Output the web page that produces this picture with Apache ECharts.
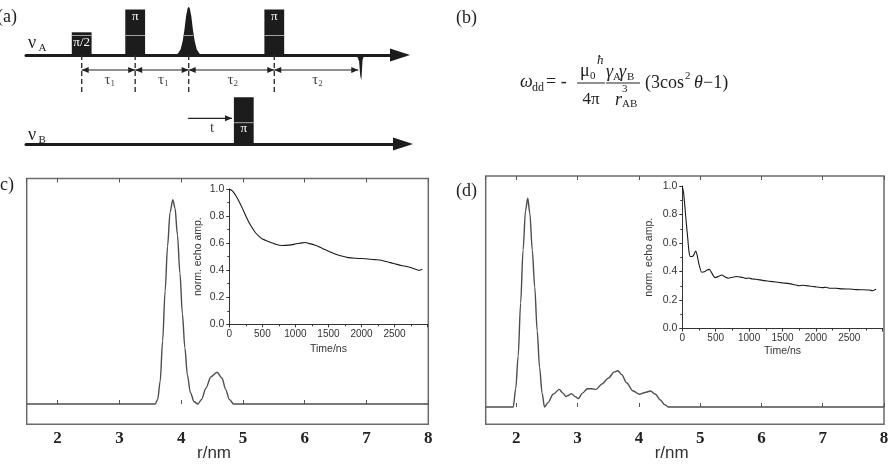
<!DOCTYPE html>
<html>
<head>
<meta charset="utf-8">
<title>DEER</title>
<script src="https://cdn.jsdelivr.net/npm/echarts@6.0.0/dist/echarts.min.js"></script>
<style>
  html, body { margin: 0; padding: 0; background: #fff; }
  #chart { width: 892px; height: 464px; }
</style>
</head>
<body>
<div id="chart"></div>
<script>
var SERIF = '"Liberation Serif", "DejaVu Serif", serif';
var SANS = '"Liberation Sans", Arial, sans-serif';

// (c) distance distribution
var rC = [1.5, 3.58, 3.62, 3.66, 3.70, 3.74, 3.78, 3.82, 3.865, 3.90, 3.94, 3.98, 4.02, 4.06, 4.10, 4.15, 4.21, 4.27, 4.33, 4.40, 4.48, 4.58, 4.66, 4.72, 4.78, 4.85, 8.0];
var pC = [0, 0, 0.02, 0.10, 0.28, 0.50, 0.70, 0.85, 0.906, 0.87, 0.75, 0.58, 0.40, 0.25, 0.13, 0.05, 0.01, 0.0, 0.02, 0.07, 0.12, 0.141, 0.115, 0.065, 0.02, 0, 0];
// (c) inset: DEER trace
var tC = [0, 50, 100, 150, 200, 250, 300, 350, 400, 450, 500, 600, 700, 800, 900, 1000, 1100, 1150, 1200, 1300, 1400, 1500, 1600, 1700, 1800, 1900, 2000, 2100, 2200, 2300, 2400, 2500, 2600, 2700, 2800, 2850, 2880, 2920];
var echoC = [1.0, 0.985, 0.95, 0.905, 0.855, 0.80, 0.75, 0.71, 0.675, 0.65, 0.63, 0.61, 0.592, 0.582, 0.585, 0.593, 0.602, 0.605, 0.598, 0.585, 0.563, 0.54, 0.52, 0.505, 0.493, 0.488, 0.486, 0.483, 0.478, 0.473, 0.46, 0.448, 0.435, 0.425, 0.41, 0.402, 0.40, 0.407];

// (d) distance distribution
var rD = [1.5, 1.95, 1.99, 2.03, 2.07, 2.11, 2.15, 2.186, 2.22, 2.26, 2.30, 2.34, 2.38, 2.42, 2.46, 2.52, 2.60, 2.70, 2.76, 2.81, 2.86, 2.90, 2.96, 3.01, 3.08, 3.16, 3.23, 3.30, 3.40, 3.50, 3.60, 3.655, 3.72, 3.80, 3.90, 4.01, 4.10, 4.19, 4.27, 4.35, 4.42, 4.48, 8.0];
var pD = [0, 0, 0.08, 0.22, 0.45, 0.68, 0.85, 0.904, 0.84, 0.68, 0.52, 0.33, 0.17, 0.06, 0.0, 0.02, 0.055, 0.076, 0.06, 0.045, 0.052, 0.058, 0.045, 0.036, 0.06, 0.079, 0.079, 0.076, 0.10, 0.125, 0.152, 0.157, 0.14, 0.105, 0.07, 0.055, 0.063, 0.069, 0.055, 0.03, 0.01, 0, 0];
// (d) inset: DEER trace
var tD = [0, 20, 40, 60, 80, 100, 120, 150, 170, 200, 220, 250, 290, 330, 370, 405, 440, 490, 540, 590, 640, 690, 750, 815, 900, 950, 1000, 1050, 1100, 1200, 1300, 1400, 1500, 1600, 1700, 1750, 1800, 1900, 2000, 2100, 2150, 2200, 2300, 2400, 2500, 2600, 2700, 2800, 2850, 2900];
var echoD = [1.0, 0.95, 0.85, 0.74, 0.64, 0.54, 0.505, 0.505, 0.515, 0.543, 0.52, 0.45, 0.395, 0.398, 0.41, 0.415, 0.39, 0.357, 0.365, 0.375, 0.362, 0.353, 0.36, 0.365, 0.358, 0.352, 0.354, 0.347, 0.346, 0.338, 0.332, 0.326, 0.32, 0.315, 0.305, 0.30, 0.303, 0.298, 0.292, 0.287, 0.29, 0.283, 0.282, 0.278, 0.277, 0.273, 0.272, 0.27, 0.265, 0.275];

// (a) pulse sequence, time in units of tau1 (tau2 ~ 1.6 tau1)
var seqMarks = [0, 1, 2, 3.6];
var pulsesA = [[0, 0.5], [1, 1], [3.6, 1]];
var pulseLabelsA = ['π/2', 'π', 'π'];
var echoA = [[2, 1.06]];
var refocusedEcho = [[5.22, -0.55]];
var delays = [[0, 1], [1, 2], [2, 3.6], [3.6, 5.17]];
var delayLabels = [['τ', '1'], ['τ', '1'], ['τ', '2'], ['τ', '2']];
var pulsesB = [[3.03, 1.03]];
var pumpShift = [[1.99, 2.81]];

// glyph shapes for the echoes
var PULSE_W = 0.37;
var SHEEN_A = 0.43, SHEEN_B = 0.47;
var ECHO_DT = [-0.26, -0.2, -0.15, -0.11, -0.08, -0.05, -0.02, 0, 0.02, 0.05, 0.08, 0.11, 0.15, 0.2, 0.26];
var ECHO_REL = [0, 0.03, 0.12, 0.3, 0.52, 0.8, 0.97, 1, 0.97, 0.8, 0.52, 0.3, 0.12, 0.03, 0];
var NEG_DT = [-0.14, -0.07, -0.035, -0.012, 0.008, 0.03, 0.06];
var NEG_REL = [0, 0.06, 0.25, 0.85, 1, 0.2, 0];

function zip(a, b) {
    return a.map(function (v, i) { return [v, b[i]]; });
}

function pulseItem(labels, sheen, low) {
    return function (params, api) {
        var t = api.value(0), amp = api.value(1);
        var a = api.coord([t - PULSE_W / 2, 0]);
        var b = api.coord([t + PULSE_W / 2, amp]);
        var ys = api.coord([t, sheen])[1];
        var lab = labels[params.dataIndex];
        var ly = (low || amp < 0.7) ? ys + (low ? 5.5 : 7.5) : b[1] + 7;
        return {type: 'group', children: [
            {type: 'rect', shape: {x: a[0], y: b[1], width: b[0] - a[0], height: a[1] - b[1]}, style: {fill: '#1c1c1c'}},
            {type: 'line', shape: {x1: a[0], y1: ys, x2: b[0], y2: ys}, style: {stroke: '#c8c8c8', lineWidth: 0.8}},
            {type: 'text', x: (a[0] + b[0]) / 2, y: ly, style: {text: lab, fill: '#fff', font: '13px ' + SERIF, align: 'center', verticalAlign: 'middle'}}
        ]};
    };
}

function shapeItem(dts, rels, sheen) {
    return function (params, api) {
        var t = api.value(0), amp = api.value(1);
        var pts = dts.map(function (dt, i) { return api.coord([t + dt, amp * rels[i]]); });
        var children = [{type: 'polygon', shape: {points: pts}, style: {fill: '#1c1c1c'}}];
        if (sheen != null) {
            var a = api.coord([t - 0.085, sheen]);
            var b = api.coord([t + 0.085, sheen]);
            children.push({type: 'line', shape: {x1: a[0], y1: a[1], x2: b[0], y2: b[1]}, style: {stroke: '#c8c8c8', lineWidth: 0.8}});
        }
        return {type: 'group', children: children};
    };
}

function dashedItem(params, api) {
    var a = api.coord([api.value(0), 0]);
    var b = api.coord([api.value(0), -0.88]);
    return {type: 'line', shape: {x1: a[0], y1: a[1], x2: b[0], y2: b[1]},
        style: {stroke: '#333', lineWidth: 1.4, lineDash: [5, 3]}};
}

function arrowItem(labels, level, both) {
    return function (params, api) {
        var a = api.coord([api.value(0), level]);
        var b = api.coord([api.value(1), level]);
        var y = a[1], L = 7, H = 3;
        var ch = [
            {type: 'line', shape: {x1: a[0], y1: y, x2: b[0], y2: y}, style: {stroke: '#222', lineWidth: 1.2}},
            {type: 'polygon', shape: {points: [[b[0], y], [b[0] - L, y - H], [b[0] - L, y + H]]}, style: {fill: '#222'}}
        ];
        if (both) {
            ch.push({type: 'polygon', shape: {points: [[a[0], y], [a[0] + L, y - H], [a[0] + L, y + H]]}, style: {fill: '#222'}});
        }
        var lab = labels[params.dataIndex], xm = (a[0] + b[0]) / 2 + 2;
        ch.push({type: 'text', x: xm, y: y + 10, style: {text: lab[0], font: '15px ' + SERIF, fill: '#444', align: lab[1] ? 'right' : 'center', verticalAlign: 'middle'}});
        if (lab[1]) {
            ch.push({type: 'text', x: xm, y: y + 14, style: {text: lab[1], font: '9px ' + SERIF, fill: '#444', align: 'left', verticalAlign: 'middle'}});
        }
        return {type: 'group', children: ch};
    };
}

function txt(x, y, s, size, italic, align, color) {
    return {type: 'text', x: x, y: y, silent: true,
        style: {text: s, font: (italic ? 'italic ' : '') + size + 'px ' + SERIF, fill: color || '#222',
            align: align || 'left', verticalAlign: 'middle'}};
}
function bar(x1, x2, y) {
    return {type: 'line', silent: true, shape: {x1: x1, y1: y, x2: x2, y2: y}, style: {stroke: '#222', lineWidth: 1}};
}

function schemX(grid, max) {
    return {gridIndex: grid, type: 'value', min: -1.041, max: max,
        axisLine: {show: true, onZero: true, symbol: ['none', 'triangle'], symbolSize: [13, 20],
            lineStyle: {color: '#1c1c1c', width: 3}},
        axisTick: {show: false}, axisLabel: {show: false}, splitLine: {show: false}};
}
function schemY(grid, min, max) {
    return {gridIndex: grid, type: 'value', min: min, max: max, show: false};
}
function mainX(grid, top) {
    return {gridIndex: grid, type: 'value', min: 1.5, max: 8, splitNumber: 7, position: top ? 'top' : 'bottom',
        axisLine: {show: false},
        axisTick: {show: true, inside: true, length: 4, lineStyle: {color: '#555', width: 1}},
        axisLabel: top ? {show: false} : {show: true, showMinLabel: false, margin: 6, color: '#222',
            fontFamily: SERIF, fontWeight: 'bold', fontSize: 17},
        splitLine: {show: false}};
}
function mainY(grid, min) {
    return {gridIndex: grid, type: 'value', min: min, max: 1, show: false};
}
var insetText = {fontFamily: SANS, fontSize: 10.5, color: '#333'};
function insetX(grid, gap) {
    return {gridIndex: grid, type: 'value', min: 0, max: 3000, interval: 500,
        name: 'Time/ns', nameLocation: 'middle', nameGap: gap, nameTextStyle: insetText,
        axisLine: {show: true, onZero: false, lineStyle: {color: '#333', width: 1}},
        axisTick: {show: true, length: 3, lineStyle: {color: '#333'}},
        minorTick: {show: true, splitNumber: 2, length: 2, lineStyle: {color: '#333'}},
        axisLabel: {showMaxLabel: false, margin: 5, fontFamily: SANS, fontSize: 10, color: '#333',
            formatter: function (v) { return String(v); }},
        splitLine: {show: false}};
}
function insetY(grid, gap) {
    return {gridIndex: grid, type: 'value', min: 0, max: 1, interval: 0.2,
        name: 'norm. echo amp.', nameLocation: 'middle', nameGap: gap, nameRotate: 90, nameTextStyle: insetText,
        axisLine: {show: true, onZero: false, lineStyle: {color: '#333', width: 1}},
        axisTick: {show: true, length: 3, lineStyle: {color: '#333'}},
        minorTick: {show: true, splitNumber: 2, length: 2, lineStyle: {color: '#333'}},
        axisLabel: {margin: 5, fontFamily: SANS, fontSize: 10.5, color: '#333',
            formatter: function (v) { return v.toFixed(1); }},
        splitLine: {show: false}};
}

var chart = echarts.init(document.getElementById('chart'));
var option = {
    animation: false,
    backgroundColor: '#fff',
    grid: [
        {left: 26, top: 5, width: 374, height: 91},
        {left: 26, top: 94, width: 377, height: 59.15},
        {left: 26.7, top: 178.5, width: 401.6, height: 245.8, show: true, borderColor: '#6b6b6b', borderWidth: 1.5},
        {left: 229.3, top: 189, width: 198.3, height: 135.3},
        {left: 485.7, top: 176, width: 398.3, height: 248.3, show: true, borderColor: '#6b6b6b', borderWidth: 1.5},
        {left: 682.3, top: 186, width: 200.4, height: 142.5}
    ],
    xAxis: [
        schemX(0, 5.950),
        schemX(1, 6.006),
        mainX(2, false),
        mainX(2, true),
        insetX(3, 19),
        mainX(4, false),
        mainX(4, true),
        insetX(5, 17)
    ],
    yAxis: [
        schemY(0, -0.9, 1.1),
        schemY(1, -0.2, 1.1),
        mainY(2, -0.09),
        insetY(3, 26),
        mainY(4, -0.075),
        insetY(5, 28)
    ],
    series: [
        {type: 'custom', xAxisIndex: 0, yAxisIndex: 0, data: seqMarks.map(function (t) { return [t, 0]; }), renderItem: dashedItem},
        {type: 'custom', xAxisIndex: 0, yAxisIndex: 0, data: pulsesA, renderItem: pulseItem(pulseLabelsA, SHEEN_A, false)},
        {type: 'custom', xAxisIndex: 0, yAxisIndex: 0, data: echoA, renderItem: shapeItem(ECHO_DT, ECHO_REL, SHEEN_A)},
        {type: 'custom', xAxisIndex: 0, yAxisIndex: 0, data: refocusedEcho, renderItem: shapeItem(NEG_DT, NEG_REL, null)},
        {type: 'custom', xAxisIndex: 0, yAxisIndex: 0, data: delays, renderItem: arrowItem(delayLabels, -0.329, true)},
        {type: 'custom', xAxisIndex: 1, yAxisIndex: 1, data: pulsesB, renderItem: pulseItem(['π'], SHEEN_B, true)},
        {type: 'custom', xAxisIndex: 1, yAxisIndex: 1, data: pumpShift, renderItem: arrowItem([['t']], 0.565, false)},
        {type: 'line', xAxisIndex: 2, yAxisIndex: 2, data: zip(rC, pC), smooth: 0.3, smoothMonotone: 'x', showSymbol: false,
            lineStyle: {color: '#4d4d4d', width: 1.4}},
        {type: 'line', xAxisIndex: 4, yAxisIndex: 3, data: zip(tC, echoC), smooth: 0.2, showSymbol: false,
            lineStyle: {color: '#1a1a1a', width: 1.1}},
        {type: 'line', xAxisIndex: 5, yAxisIndex: 4, data: zip(rD, pD), smooth: 0.3, smoothMonotone: 'x', showSymbol: false,
            lineStyle: {color: '#4d4d4d', width: 1.4}},
        {type: 'line', xAxisIndex: 7, yAxisIndex: 5, data: zip(tD, echoD), smooth: 0.2, showSymbol: false,
            lineStyle: {color: '#1a1a1a', width: 1.1}}
    ],
    graphic: [
        txt(-3, 17, '(a)', 18),
        txt(456, 18, '(b)', 18),
        txt(-6, 185, '(c)', 18),
        txt(456, 191.7, '(d)', 18),
        txt(28, 43, 'ν', 18), txt(38.5, 48, 'A', 11),
        txt(28, 135, 'ν', 18), txt(38.5, 140, 'B', 11),
        // dipolar coupling formula
        txt(520, 82, 'ω', 18, true), txt(532, 88, 'dd', 12),
        txt(546, 82, '= -', 18),
        txt(580, 71, 'μ', 18), txt(590, 76, '0', 11), txt(597, 61, 'ħ', 13, true),
        bar(577, 605, 83),
        txt(591, 100, '4π', 17, false, 'center'),
        txt(606, 72, 'γ', 18, true), txt(613, 77, 'A', 11), txt(619, 72, 'γ', 18, true), txt(627, 77, 'B', 11),
        bar(606, 640, 83),
        txt(615, 100, 'r', 18, true), txt(622, 89, '3', 11), txt(622, 104, 'AB', 11),
        txt(645, 83, '(3cos', 18), txt(685, 76, '2', 11), txt(694, 83, 'θ', 18, true), txt(703, 83, '−1)', 18),
        {type: 'text', x: 214, y: 453, silent: true, style: {text: 'r/nm', font: '17px ' + SANS, fill: '#333', align: 'center', verticalAlign: 'middle'}},
        {type: 'text', x: 671.7, y: 453, silent: true, style: {text: 'r/nm', font: '17px ' + SANS, fill: '#333', align: 'center', verticalAlign: 'middle'}}
    ]
};
chart.setOption(option);
</script>
</body>
</html>
